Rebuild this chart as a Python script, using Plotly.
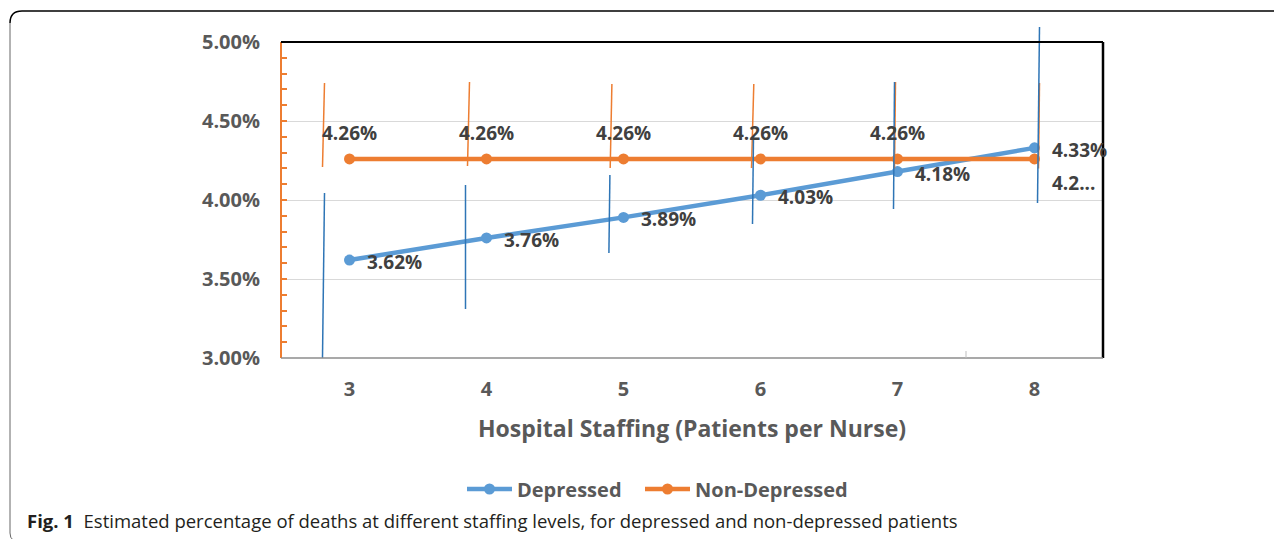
import plotly.graph_objects as go

# ---------------- data ----------------
staffing = [3, 4, 5, 6, 7, 8]
depressed = [3.62, 3.76, 3.89, 4.03, 4.18, 4.33]
non_depressed = [4.26, 4.26, 4.26, 4.26, 4.26, 4.26]

# error-bar ends (as drawn in the figure)
dep_upper = [4.044, 4.095, 4.158, 4.405, 4.747, 5.095]
dep_lower = [3.000, 3.310, 3.665, 3.848, 3.943, 3.981]
non_upper = [4.741, 4.747, 4.734, 4.734, 4.747, 4.740]
non_lower = [4.209, 4.215, 4.203, 4.203, 4.200, 4.200]

dep_labels = [f"{v:.2f}%" for v in depressed]
non_labels = [f"{v:.2f}%" for v in non_depressed]
non_labels[-1] = "4.2..."

y_ticks = [3.0, 3.5, 4.0, 4.5, 5.0]

# ---------------- style ----------------
BLUE = "#5B9BD5"
BLUE_ERR = "#2E75B6"
ORANGE = "#ED7D31"
TICK_GRAY = "#595959"
LABEL_GRAY = "#404040"
FONT = "Open Sans"

OFF = 8  # page margin of the html body
W, H = 1282, 539
ML, MR, MT, MB = 281 - OFF, 1282 - (1103 - OFF), 27 - OFF, 539 - (358 - OFF)
XMIN, XMAX = 2.5, 8.5
YMIN, YMAX = 3.0, 5.095
PLOT_W = W - ML - MR
PLOT_H = H - MT - MB
PX_PER_X = PLOT_W / (XMAX - XMIN)

# slanted, shifted error-bar drawing offsets (px) at top / bottom
dep_off_top = [-25, -21, -13.6, -7, -3, 5]
dep_off_bot = [-27, -21, -14.6, -8, -4, 3]
non_off_top = [-25, -17, -11.6, -6.7, -2, 5]
non_off_bot = [-27, -19, -13.3, -9, -3, 4]


def px_x(p):
    """page pixel x -> paper fraction"""
    return (p - OFF - ML) / PLOT_W


def px_y(p):
    """page pixel y -> paper fraction"""
    return (H - MB - (p - OFF)) / PLOT_H


def err_segments(xs, lo, hi, otop, obot):
    X, Y = [], []
    for x, l, h, a, b in zip(xs, lo, hi, otop, obot):
        X += [x + a / PX_PER_X, x + b / PX_PER_X, None]
        Y += [h, l, None]
    return X, Y


fig = go.Figure()

fig.add_trace(go.Scatter(
    x=staffing, y=depressed, mode="lines+markers", name="Depressed", legend="legend",
    line=dict(color=BLUE, width=4.5), marker=dict(color=BLUE, size=11),
    hoverinfo="x+y"))
fig.add_trace(go.Scatter(
    x=staffing, y=non_depressed, mode="lines+markers", name="Non-Depressed", legend="legend2",
    line=dict(color=ORANGE, width=4.5), marker=dict(color=ORANGE, size=11),
    hoverinfo="x+y"))

ex, ey = err_segments(staffing, non_lower, non_upper, non_off_top, non_off_bot)
fig.add_trace(go.Scatter(x=ex, y=ey, mode="lines", showlegend=False,
                         line=dict(color=ORANGE, width=1.5), hoverinfo="skip"))
ex, ey = err_segments(staffing, dep_lower, dep_upper, dep_off_top, dep_off_bot)
fig.add_trace(go.Scatter(x=ex, y=ey, mode="lines", showlegend=False,
                         line=dict(color=BLUE_ERR, width=1.5), hoverinfo="skip"))

annotations = []
for x, y, t in zip(staffing, depressed, dep_labels):
    annotations.append(dict(x=x, y=y, text=f"<b>{t}</b>", showarrow=False,
                            xanchor="left", yanchor="middle", xshift=15, yshift=-2,
                            font=dict(family=FONT, size=19, color=LABEL_GRAY)))
for i, (x, y, t) in enumerate(zip(staffing, non_depressed, non_labels)):
    if i == len(staffing) - 1:
        annotations.append(dict(x=x, y=y, text=f"<b>{t}</b>", showarrow=False,
                                xanchor="left", yanchor="middle", xshift=15, yshift=-24,
                                font=dict(family=FONT, size=19, color=LABEL_GRAY)))
    else:
        annotations.append(dict(x=x, y=y, text=f"<b>{t}</b>", showarrow=False,
                                xanchor="center", yanchor="middle", yshift=26,
                                font=dict(family=FONT, size=19, color=LABEL_GRAY)))

# caption
annotations.append(dict(
    xref="paper", yref="paper", x=px_x(25), y=px_y(520), xanchor="left", yanchor="middle",
    showarrow=False,
    text="<b>Fig. 1</b>  Estimated percentage of deaths at different staffing levels, "
         "for depressed and non-depressed patients",
    font=dict(family=FONT, size=18.5, color="#231F20")))

y5 = (5.0 - YMIN) / (YMAX - YMIN)
shapes = [
    # plot frame: left orange, top & right black, bottom gray
    dict(type="line", xref="paper", yref="paper", x0=0, x1=0, y0=0, y1=y5,
         line=dict(color=ORANGE, width=2)),
    dict(type="line", xref="paper", yref="paper", x0=0, x1=1, y0=y5, y1=y5,
         line=dict(color="black", width=2)),
    dict(type="line", xref="paper", yref="paper", x0=1, x1=1, y0=0, y1=y5,
         line=dict(color="black", width=2.5)),
    dict(type="line", xref="paper", yref="paper", x0=0, x1=1, y0=0, y1=0,
         line=dict(color="#8C8C8C", width=1.5)),
    dict(type="line", xref="x", yref="paper", x0=7.5, x1=7.5, y0=0, y1=7 / PLOT_H,
         line=dict(color="#BFBFBF", width=1)),
    # outer frame of the figure panel
    dict(type="path", xref="paper", yref="paper",
         path=f"M {px_x(1290)},{px_y(11)} L {px_x(22)},{px_y(11)} "
              f"Q {px_x(10)},{px_y(11)} {px_x(10)},{px_y(23)}",
         line=dict(color="black", width=1.5)),
    dict(type="path", xref="paper", yref="paper",
         path=f"M {px_x(10)},{px_y(23)} L {px_x(10)},{px_y(533)} "
              f"Q {px_x(10)},{px_y(538)} {px_x(13)},{px_y(540)}",
         line=dict(color="#666666", width=1)),
]

legend_font = dict(family=FONT, size=20, color=TICK_GRAY, weight="bold")

fig.update_layout(
    width=W, height=H,
    margin=dict(l=ML, r=MR, t=MT, b=MB),
    paper_bgcolor="white", plot_bgcolor="white",
    font=dict(family=FONT, color=TICK_GRAY),
    showlegend=True,
    legend=dict(orientation="h", x=px_x(462), xanchor="left", y=px_y(489), yanchor="middle",
                font=legend_font, itemwidth=45, bgcolor="rgba(0,0,0,0)"),
    legend2=dict(orientation="h", x=px_x(640), xanchor="left", y=px_y(489), yanchor="middle",
                 font=legend_font, itemwidth=45, bgcolor="rgba(0,0,0,0)"),
    annotations=annotations,
    shapes=shapes,
    xaxis=dict(range=[XMIN, XMAX], tickmode="array", tickvals=staffing,
               ticktext=[str(s) for s in staffing], showgrid=False, zeroline=False,
               showline=False, ticks="", ticklabelstandoff=17,
               tickfont=dict(family=FONT, size=20, color=TICK_GRAY, weight="bold"),
               title=dict(text="Hospital Staffing (Patients per Nurse)", standoff=19,
                          font=dict(family=FONT, size=23, color=TICK_GRAY, weight="bold"))),
    yaxis=dict(range=[YMIN, YMAX], tickmode="array", tickvals=y_ticks,
               ticktext=[f"{v:.2f}%" for v in y_ticks],
               showgrid=True, gridcolor="#D9D9D9", gridwidth=1, zeroline=False,
               showline=False, ticks="inside", ticklen=6, tickwidth=1.5, tickcolor=ORANGE,
               ticklabelstandoff=20,
               minor=dict(dtick=0.1, tick0=3.0, ticks="inside", ticklen=6, tickwidth=1.5,
                          tickcolor=ORANGE, showgrid=False),
               tickfont=dict(family=FONT, size=20, color=TICK_GRAY, weight="bold")),
)

fig.write_html("out.html")
